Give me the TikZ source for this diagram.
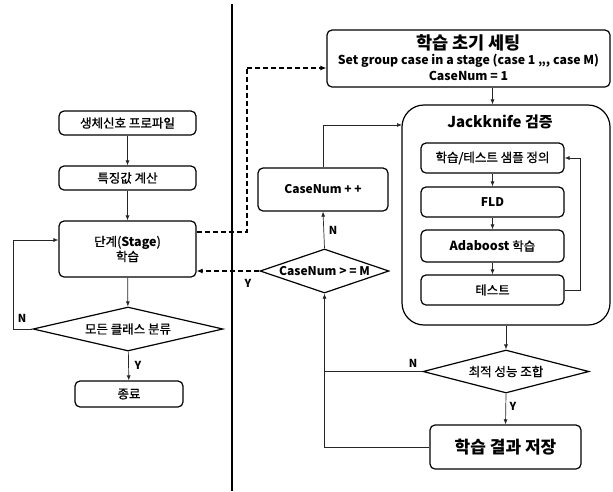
\documentclass[tikz,border=0pt]{standalone}
\usepackage{fontspec}
\setmainfont{Noto Sans CJK KR}[UprightFeatures={RawFeature={embolden=0.9}}]
\usetikzlibrary{shapes.geometric,arrows.meta,calc}
\begin{document}
\begin{tikzpicture}[x=1pt,y=-1pt,
  box/.style={draw=black,line width=1.2pt,rounded corners=5pt,minimum width=#1,inner sep=0pt,align=center,font=\fontsize{12.5}{15}\selectfont},
  dia/.style={draw=black,line width=1.2pt,diamond,inner sep=0pt,font=\fontsize{12.5}{15}\selectfont},
  arr/.style={draw=black!85,line width=0.7pt,-{Latex[length=5pt,width=4pt]}},
  ln/.style={draw=black!85,line width=0.7pt},
  dsh/.style={draw=black,line width=1.8pt,dash pattern=on 5pt off 3pt},
  lab/.style={font=\bfseries\fontsize{11}{12}\selectfont,inner sep=0pt}]
\useasboundingbox (0,0) rectangle (613,491);
\draw[line width=2.4pt] (232,4) -- (232,491);
% left column
\node[box=137pt,minimum height=24pt] (b1) at (127.5,123) {생체신호 프로파일};
\node[box=137pt,minimum height=24pt] (b2) at (127.5,178) {특징값 계산};
\node[box=137pt,minimum height=56pt] (b3) at (127.5,249) {단계(\textbf{Stage})\\학습};
\node[dia,minimum width=190pt,minimum height=44pt,shape aspect=4.3] (d1) at (128,329) {모든 클래스 분류};
\node[box=108pt,minimum height=26pt] (b4) at (129,394) {종료};
\draw[arr] (b1) -- (b2);
\draw[arr] (b2) -- (b3);
\draw[arr] (b3) -- (d1);
\draw[arr] (d1) -- (b4);
\draw[arr] (d1.west) -- ++(-19,0) |- ($(b3.west)+(0,-9)$);
\node[lab] (ln1) at (22,318) {N};
\node[lab] (ly1) at (138,365) {Y};
% right column
\node[box=283pt,minimum height=57pt] (t1) at (468.5,58.5) {};
\node[font=\bfseries\fontsize{17.5}{19}\selectfont,inner sep=0pt] (t1a) at (468.5,43) {학습 초기 세팅};
\node[font=\bfseries\fontsize{12.3}{14}\selectfont,inner sep=0pt] (t1b) at (468.5,61) {Set group case in a stage (case 1 ,,, case M)};
\node[font=\bfseries\fontsize{12.3}{14}\selectfont,inner sep=0pt] (t1c) at (468.5,76) {CaseNum = 1};
\node[draw=black,line width=1.2pt,rounded corners=22pt,minimum width=208pt,minimum height=220pt,inner sep=0pt] (jk) at (506,215) {};
\node[font=\bfseries\fontsize{15}{17}\selectfont,inner sep=0pt] (jkt) at (500,122) {Jackknife 검증};
\node[box=143pt,minimum height=30pt] (i1) at (492.5,158) {학습/테스트 샘플 정의};
\node[box=143pt,minimum height=30pt,font=\bfseries\fontsize{12}{14}\selectfont] (i2) at (492.5,202) {FLD};
\node[box=143pt,minimum height=32pt] (i3) at (492.5,246) {\textbf{Adaboost} 학습};
\node[box=143pt,minimum height=30pt] (i4) at (492.5,290) {테스트};
\draw[arr] (t1.south -| i1.center) -- (jk.north -| i1.center);
\draw[arr] (i1) -- (i2);
\draw[arr] (i2) -- (i3);
\draw[arr] (i3) -- (i4);
\draw[arr] (i4.east) -- ++(16,0) |- (i1.east);
\node[box=130pt,minimum height=43pt,font=\bfseries\fontsize{12}{14}\selectfont] (cn) at (323,189.5) {CaseNum + +};
\node[dia,minimum width=129pt,minimum height=44pt,shape aspect=2.9,font=\bfseries\fontsize{12}{14}\selectfont] (d2) at (324.5,271) {CaseNum > = M};
\node[dia,minimum width=166pt,minimum height=43pt,shape aspect=3.9] (d3) at (506,371.5) {최적 성능 조합};
\node[box=151pt,minimum height=44pt,font=\bfseries\fontsize{17}{19}\selectfont] (sv) at (505.5,447) {학습 결과 저장};
\coordinate (jkin) at (402,125);
\draw[arr] (cn.north) |- (jkin);
\draw[arr] (d2.north) -- (cn.south);
\draw[arr] (jk.south) -- (d3.north);
\draw[arr] (d3.south) -- (sv.north);
\draw[arr] (sv.west) -| (d2.south);
\draw[ln] (d3.west) -- (d3.west -| d2.south);
\node[lab] (ln2) at (333,230) {N};
\node[lab] (ln3) at (413,363) {N};
\node[lab] (ly3) at (513,406) {Y};
\node[lab] (ly2) at (248,283) {Y};
% dashed links
\coordinate (c1) at (247,232);
\coordinate (c2) at (247,68);
\draw[dsh] (b3.east |- c1) -- (c1) -- (c2);
\draw[dsh,-{Latex[length=6pt,width=5pt]}] (c2) -- (t1.west |- c2);
\draw[dsh,-{Latex[length=6pt,width=5pt]}] (d2.west) -- (b3.east |- d2.west);
\end{tikzpicture}
\end{document}
